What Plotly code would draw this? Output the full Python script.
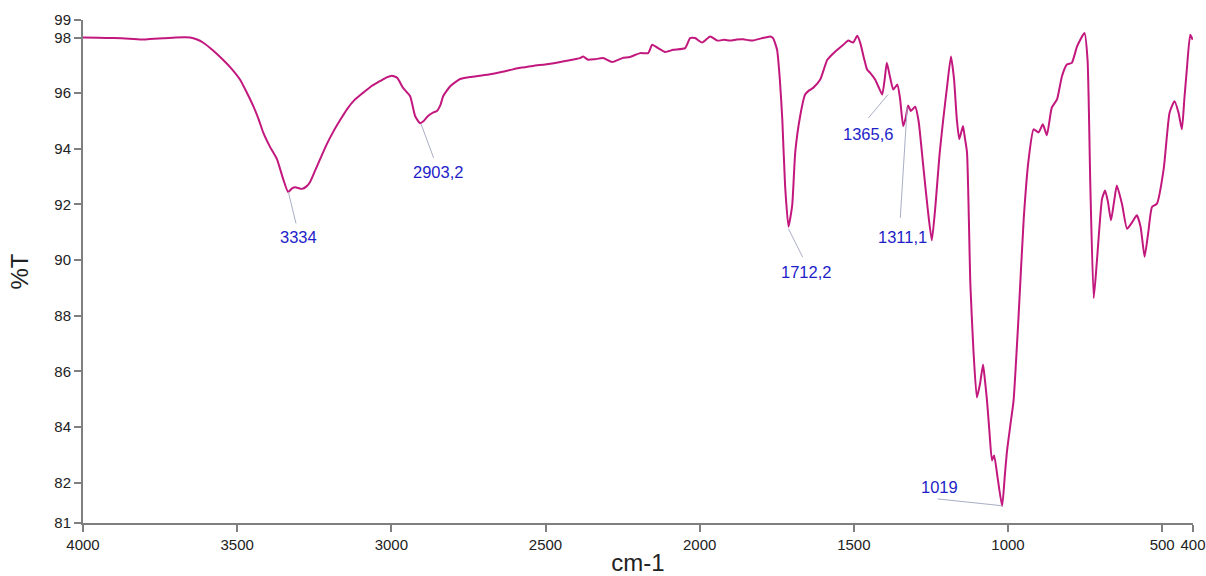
import plotly.graph_objects as go

# Wavenumber (cm-1) and transmittance (%T)
wavenumber = [
    4000, 3950, 3900, 3850, 3805, 3770, 3740, 3700, 3653, 3630, 3611, 3580, 3546, 3520, 3491,
    3470, 3448, 3430, 3416, 3393, 3371, 3351, 3335, 3322, 3312, 3290, 3275, 3264, 3248, 3231,
    3210, 3189, 3165, 3144, 3120, 3092, 3065, 3037, 3015, 2998, 2981, 2962, 2939, 2923, 2907,
    2895, 2881, 2865, 2852, 2840, 2832, 2809, 2777, 2745, 2712, 2680, 2647, 2615, 2582, 2540,
    2485, 2440, 2388, 2378, 2362, 2340, 2313, 2284, 2251, 2226, 2193, 2167, 2154, 2135, 2112,
    2086, 2047, 2031, 2015, 1992, 1966, 1943, 1920, 1901, 1880, 1859, 1840, 1827, 1800, 1771,
    1762, 1749, 1740, 1732, 1723, 1712, 1700, 1690, 1674, 1658, 1645, 1632, 1609, 1586, 1560,
    1534, 1518, 1502, 1489, 1479, 1467, 1457, 1447, 1431, 1421, 1408, 1400, 1393, 1383, 1372,
    1359, 1350, 1340, 1332, 1324, 1315, 1301, 1290, 1275, 1260, 1247, 1235, 1222, 1210, 1198,
    1185, 1175, 1166, 1158, 1146, 1140, 1133, 1122, 1112, 1101, 1090, 1081, 1075, 1068, 1060,
    1052, 1045, 1034, 1019, 1010, 1003, 992, 982, 966, 949, 933, 917, 901, 887, 874,
    858, 841, 825, 809, 793, 776, 752, 742, 733, 722, 711, 695, 685, 676, 666,
    656, 647, 630, 614, 598, 582, 570, 557, 545, 533, 517, 495, 476, 460, 447,
    436, 428, 420, 409, 401,
]
transmittance = [
    98.00, 97.99, 97.98, 97.96, 97.93, 97.96, 97.97, 98.00, 98.00, 97.93, 97.82, 97.55, 97.20, 96.90, 96.49,
    96.05, 95.54, 95.05, 94.60, 94.06, 93.63, 92.92, 92.45, 92.58, 92.62, 92.56, 92.65, 92.80, 93.20, 93.63,
    94.15, 94.60, 95.05, 95.42, 95.75, 96.01, 96.25, 96.43, 96.57, 96.63, 96.55, 96.19, 95.89, 95.18, 94.92,
    95.00, 95.18, 95.30, 95.36, 95.60, 95.89, 96.25, 96.51, 96.58, 96.63, 96.68, 96.75, 96.83, 96.91, 96.98,
    97.06, 97.15, 97.26, 97.32, 97.20, 97.22, 97.26, 97.12, 97.26, 97.30, 97.44, 97.44, 97.74, 97.62, 97.48,
    97.56, 97.62, 97.98, 97.98, 97.82, 98.04, 97.89, 97.92, 97.89, 97.93, 97.94, 97.90, 97.89, 97.97, 98.04,
    97.98, 97.56, 96.50, 95.06, 92.68, 91.20, 91.96, 93.88, 95.18, 95.95, 96.10, 96.19, 96.49, 97.20, 97.50,
    97.74, 97.89, 97.82, 98.06, 97.80, 97.25, 96.85, 96.73, 96.49, 96.25, 95.95, 96.50, 97.09, 96.60, 96.13,
    96.31, 95.80, 94.82, 95.10, 95.56, 95.36, 95.51, 95.00, 93.40, 91.80, 90.71, 92.00, 93.80, 95.06, 96.20,
    97.32, 96.50, 95.06, 94.35, 94.82, 94.40, 93.88, 89.11, 86.74, 85.06, 85.60, 86.25, 85.70, 84.94, 83.80,
    82.80, 82.98, 82.20, 81.16, 82.30, 83.16, 84.10, 84.94, 87.92, 91.49, 93.63, 94.70, 94.59, 94.88, 94.49,
    95.48, 95.78, 96.61, 97.03, 97.09, 97.68, 98.16, 97.20, 92.68, 88.63, 90.06, 92.20, 92.50, 92.10, 91.43,
    92.10, 92.68, 92.00, 91.13, 91.35, 91.61, 91.20, 90.12, 91.00, 91.91, 92.03, 93.28, 95.30, 95.71, 95.30,
    94.70, 95.80, 96.85, 98.10, 97.92,
]

# Axis ticks
x_tickvals = [4000, 3500, 3000, 2500, 2000, 1500, 1000, 500, 400]
y_range = [80.55, 98.63]
y_tickvals = [80.55, 82, 84, 86, 88, 90, 92, 94, 96, 98, 98.63]
y_ticktext = ["81", "82", "84", "86", "88", "90", "92", "94", "96", "98", "99"]

# Peak labels: text, leader tip (x, y), leader tail offset (px), text offset (px)
peak_text = ["3334", "2903,2", "1712,2", "1365,6", "1311,1", "1019"]
peak_tip_x = [3334, 2903.2, 1712.2, 1389, 1327, 1019]
peak_tip_y = [92.45, 94.88, 91.13, 95.95, 95.49, 81.17]
lead_ax = [8, 13, 15, -21, -7, -66]
lead_ay = [33, 35, 30, 25, 112, -7]
text_dx = [10, 17, 18, -20, -5, -63]
text_dy = [-45, -48, -43, -39, -130, 19]

LINE = "#C2187E"
BLUE = "#1E1EC8"
AXIS = "#7f7f7f"

fig = go.Figure()
fig.add_trace(go.Scatter(
    x=wavenumber, y=transmittance, mode="lines",
    line=dict(color=LINE, width=2, shape="spline", smoothing=0.5),
    hoverinfo="x+y", showlegend=False,
))

annotations = []
for t, tx, ty, ax, ay, dx, dy in zip(peak_text, peak_tip_x, peak_tip_y, lead_ax, lead_ay, text_dx, text_dy):
    annotations.append(dict(
        x=tx, y=ty, xref="x", yref="y", text="", showarrow=True,
        arrowhead=0, arrowwidth=1, arrowcolor="#A9AEC4", ax=ax, ay=ay, standoff=0,
    ))
    annotations.append(dict(
        x=tx, y=ty, xref="x", yref="y", text=t, showarrow=False,
        xshift=dx, yshift=dy, font=dict(family="Liberation Sans, Arial", size=16.5, color=BLUE),
    ))

fig.update_layout(
    width=1206, height=576,
    margin=dict(l=83, r=13, t=20, b=53, autoexpand=False),
    paper_bgcolor="white", plot_bgcolor="white",
    font=dict(family="Liberation Sans, Arial", color="#222222"),
    annotations=annotations,
    xaxis=dict(
        range=[4000, 400], autorange=False, automargin=False,
        tickvals=x_tickvals, ticktext=[str(v) for v in x_tickvals],
        ticks="outside", ticklen=7, tickwidth=1.5, tickcolor=AXIS,
        showline=True, linecolor=AXIS, linewidth=2, showgrid=False, zeroline=False,
        tickfont=dict(size=15, color="#222222"),
        title=dict(text="cm-1", font=dict(size=24, color="#222222"), standoff=4),
    ),
    yaxis=dict(
        range=y_range, autorange=False, automargin=False,
        tickvals=y_tickvals, ticktext=y_ticktext,
        ticks="outside", ticklen=7, tickwidth=1.5, tickcolor=AXIS,
        showline=True, linecolor=AXIS, linewidth=2, showgrid=False, zeroline=False,
        tickfont=dict(size=15, color="#222222"),
        title=dict(text="%T", font=dict(size=24, color="#222222"), standoff=19),
    ),
)

# Remove the browser's default page margin so the 1206x576 figure fills the window exactly
fig.write_html(
    "out.html",
    config={"displayModeBar": False},
    post_script="document.body.style.margin='0';document.body.style.overflow='hidden';",
)
